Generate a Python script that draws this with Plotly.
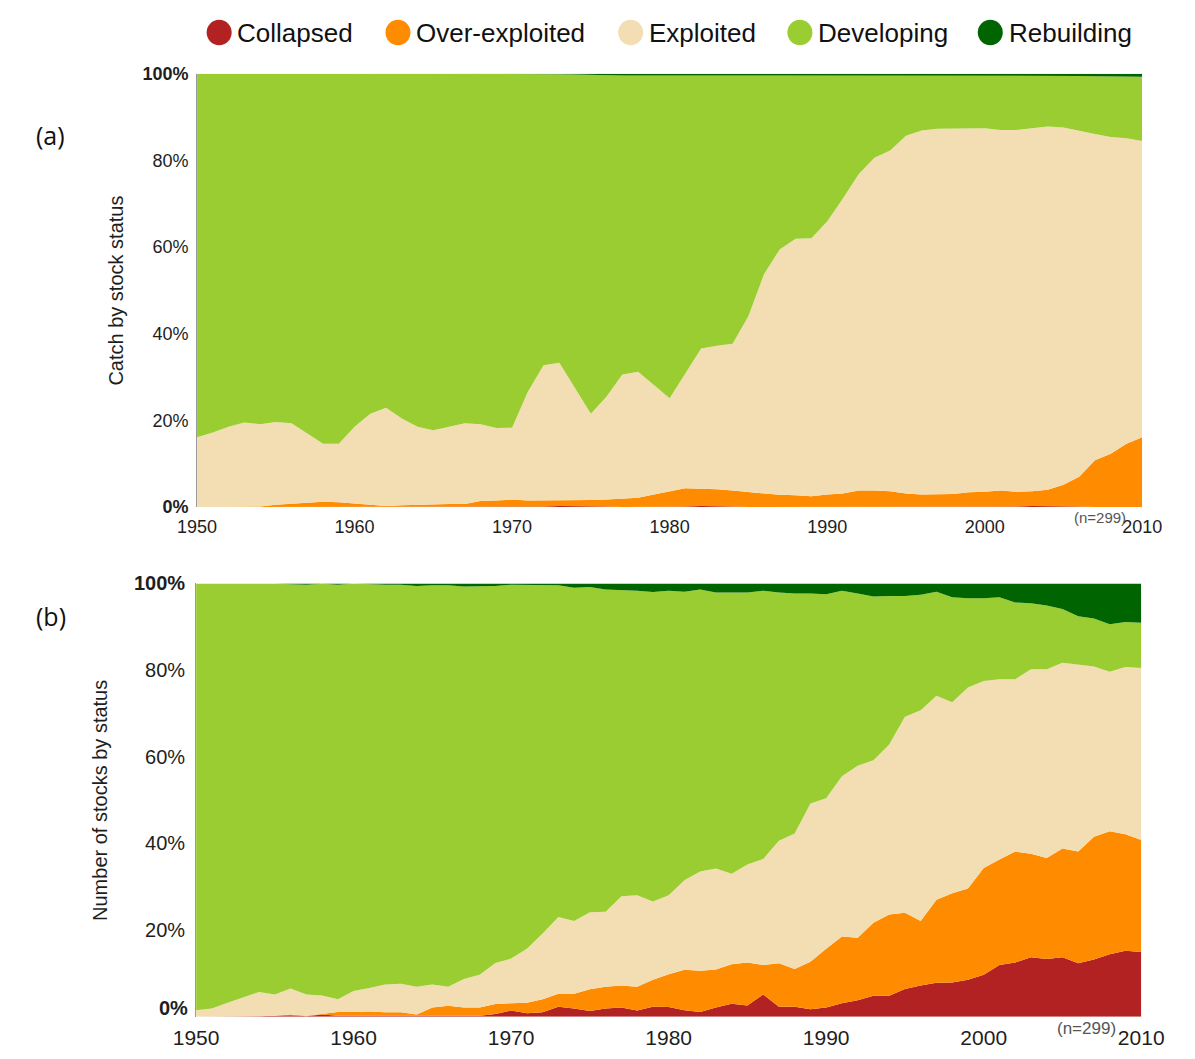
import plotly.graph_objects as go

W, H = 1195, 1059

years = list(range(1950, 2011))

categories = ["Collapsed", "Over-exploited", "Exploited", "Developing", "Rebuilding"]
colors = ["#B22222", "#FF8C00", "#F3DEB3", "#9ACD32", "#006400"]

# (a) share of catch by stock status, % (1950-2010)
catch_collapsed = [0, 0, 0, 0, 0, 0, 0, 0, 0, 0,
                   0, 0, 0, 0, 0, 0, 0, 0, 0, 0,
                   0, 0, 0.1, 0.2, 0.2, 0.2, 0.1, 0, 0, 0,
                   0, 0.1, 0.2, 0.2, 0.1, 0, 0, 0, 0, 0,
                   0, 0, 0, 0, 0, 0, 0, 0, 0, 0,
                   0, 0, 0.1, 0.2, 0.2, 0.2, 0.1, 0, 0, 0,
                   0]
catch_over = [0, 0, 0, 0, 0.1, 0.5, 0.8, 1.0, 1.2, 1.1,
              0.8, 0.5, 0.2, 0.4, 0.5, 0.7, 0.7, 0.7, 1.4, 1.5,
              1.7, 1.5, 1.4, 1.3, 1.3, 1.4, 1.6, 1.9, 2.1, 2.9,
              3.6, 4.2, 4.0, 3.9, 3.7, 3.5, 3.1, 2.8, 2.7, 2.5,
              2.9, 3.1, 3.8, 3.8, 3.6, 3.1, 2.9, 2.9, 3.0, 3.4,
              3.5, 3.8, 3.4, 3.4, 3.8, 4.9, 6.9, 10.8, 12.3, 14.6,
              16.1]
catch_exploited = [16.1, 17.2, 18.5, 19.5, 19.0, 19.1, 18.5, 16.0, 13.4, 13.5,
                   17.7, 21.0, 22.7, 20.0, 18.0, 17.0, 17.8, 18.6, 17.7, 16.7,
                   16.6, 25.1, 31.2, 31.8, 25.9, 19.9, 23.8, 28.7, 29.1, 25.3,
                   21.5, 26.5, 32.4, 33.1, 33.9, 40.5, 50.7, 56.7, 59.2, 59.5,
                   63.0, 68.1, 73.0, 76.8, 78.7, 82.6, 84.0, 84.4, 84.3, 84.0,
                   83.9, 83.2, 83.5, 83.8, 83.8, 82.5, 79.8, 75.3, 73.1, 70.5,
                   68.4]
catch_developing = [83.9, 82.8, 81.5, 80.5, 80.9, 80.4, 80.7, 83.0, 85.4, 85.4,
                    81.5, 78.5, 77.1, 79.6, 81.5, 82.3, 81.5, 80.7, 80.9, 81.8,
                    81.7, 73.4, 67.3, 66.6, 72.4, 78.2, 74.1, 69.0, 68.4, 71.4,
                    74.5, 68.8, 63.0, 62.4, 61.9, 55.6, 45.8, 40.1, 37.7, 37.6,
                    33.7, 28.4, 22.7, 18.9, 17.2, 13.8, 12.6, 12.2, 12.2, 12.1,
                    12.1, 12.5, 12.5, 12.1, 11.7, 11.9, 12.7, 13.3, 14.0, 14.2,
                    14.8]
catch_rebuilding = [0, 0, 0, 0, 0, 0, 0, 0, 0, 0,
                    0, 0, 0, 0, 0, 0, 0, 0, 0, 0,
                    0, 0, 0, 0.1, 0.2, 0.3, 0.4, 0.4, 0.4, 0.4,
                    0.4, 0.4, 0.4, 0.4, 0.4, 0.4, 0.4, 0.4, 0.4, 0.4,
                    0.4, 0.4, 0.5, 0.5, 0.5, 0.5, 0.5, 0.5, 0.5, 0.5,
                    0.5, 0.5, 0.5, 0.5, 0.5, 0.5, 0.5, 0.6, 0.6, 0.7,
                    0.7]

# (b) share of number of stocks by status, % (1950-2010)
stocks_collapsed = [0, 0, 0, 0, 0.1, 0.2, 0.3, 0.1, 0.5, 0.2,
                    0.2, 0.2, 0.2, 0.2, 0.1, 0.1, 0.1, 0.1, 0.2, 0.6,
                    1.4, 0.8, 1.0, 2.3, 1.9, 1.3, 1.9, 2.1, 1.4, 2.3,
                    2.2, 1.5, 1.1, 2.1, 3.0, 2.6, 5.1, 2.3, 2.3, 1.7,
                    2.1, 3.1, 3.8, 4.8, 4.8, 6.4, 7.2, 7.8, 7.9, 8.5,
                    9.7, 11.9, 12.5, 13.7, 13.3, 13.7, 12.3, 13.2, 14.4, 15.2,
                    14.9]
stocks_over = [0, 0, 0, 0, 0, 0, 0.2, 0.1, 0.1, 0.9,
               0.9, 1.0, 0.8, 0.8, 0.4, 2.0, 2.4, 2.0, 1.9, 2.3,
               1.7, 2.4, 3.0, 3.0, 3.4, 5.0, 5.0, 5.1, 5.5, 6.2,
               7.6, 9.3, 9.5, 8.8, 9.1, 9.9, 6.8, 10.0, 8.7, 11.0,
               13.6, 15.4, 14.4, 16.9, 18.8, 17.6, 14.9, 19.2, 20.6, 21.1,
               24.6, 24.4, 25.6, 23.9, 23.3, 25.1, 25.8, 28.3, 28.4, 26.9,
               25.9]
stocks_exploited = [1.5, 1.9, 3.2, 4.4, 5.6, 4.9, 6.0, 4.9, 4.3, 2.9,
                    4.8, 5.4, 6.4, 6.6, 6.4, 5.3, 4.4, 6.6, 7.6, 9.5,
                    10.3, 12.5, 15.2, 17.7, 16.8, 17.8, 17.3, 20.6, 21.1, 18.1,
                    18.2, 20.7, 22.9, 23.3, 20.9, 22.6, 24.5, 28.3, 31.3, 36.5,
                    34.7, 37.0, 39.7, 37.5, 39.2, 45.2, 48.6, 47.1, 44.1, 46.4,
                    43.2, 41.6, 39.8, 42.6, 43.6, 42.9, 43.2, 39.3, 36.8, 38.6,
                    39.7]
stocks_developing = [98.5, 98.1, 96.8, 95.6, 94.3, 94.9, 93.3, 94.6, 95.0, 95.7,
                     94.1, 93.2, 92.3, 92.1, 92.5, 92.2, 92.7, 90.6, 89.6, 87.0,
                     86.3, 84.0, 80.5, 76.6, 76.9, 75.1, 74.4, 70.7, 70.3, 71.4,
                     70.3, 66.6, 65.1, 63.7, 64.9, 62.8, 61.9, 57.3, 55.4, 48.5,
                     47.1, 42.8, 39.8, 37.8, 34.3, 27.9, 26.7, 24.0, 24.2, 20.6,
                     19.1, 18.9, 17.7, 15.2, 14.7, 12.4, 11.1, 11.1, 11.0, 10.4,
                     10.4]
stocks_rebuilding = [0, 0, 0, 0, 0, 0, 0.2, 0.3, 0.1, 0.3,
                     0, 0.2, 0.3, 0.3, 0.6, 0.4, 0.4, 0.7, 0.7, 0.6,
                     0.3, 0.3, 0.3, 0.4, 1.0, 0.8, 1.4, 1.5, 1.7, 2.0,
                     1.7, 1.9, 1.4, 2.1, 2.1, 2.1, 1.7, 2.1, 2.3, 2.3,
                     2.5, 1.7, 2.3, 3.0, 2.9, 2.9, 2.6, 1.9, 3.2, 3.4,
                     3.4, 3.2, 4.4, 4.6, 5.1, 5.9, 7.6, 8.1, 9.4, 8.9,
                     9.1]

year_ticks = [1950, 1960, 1970, 1980, 1990, 2000, 2010]
pct_ticks = [0, 20, 40, 60, 80, 100]
pct_labels = ["<b>0%</b>", "20%", "40%", "60%", "80%", "<b>100%</b>"]
n_note = "(n=299)"

panel_a = [catch_collapsed, catch_over, catch_exploited, catch_developing, catch_rebuilding]
panel_b = [stocks_collapsed, stocks_over, stocks_exploited, stocks_developing, stocks_rebuilding]


def px_x(p):
    return p / W


def px_y(p):
    return 1 - p / H


FONT = "Liberation Sans, Arial, sans-serif"
TXT = "#1e1e1e"

fig = go.Figure()

for series, xa, ya, grp in [(panel_a, "x", "y", "a"), (panel_b, "x2", "y2", "b")]:
    for name, vals, col in zip(categories, series, colors):
        fig.add_trace(go.Scatter(
            x=years, y=vals, name=name, xaxis=xa, yaxis=ya,
            stackgroup=grp, mode="lines", line=dict(width=0, color=col),
            fillcolor=col, showlegend=False, hoverinfo="x+y+name",
        ))

# plot areas in pixels: left, right, top, bottom
A = (181, 1164, 64, 506)
B = (180, 1163, 584, 1026)


def axis_pair(box, x_size, y_size, x_gap, y_gap, yvals, ytext):
    l, r, t, b = box
    xa = dict(domain=[px_x(l), px_x(r)], range=[1950, 2010], tickvals=year_ticks,
              showgrid=False, zeroline=False, showline=False, ticks="",
              ticklabelstandoff=x_gap,
              tickfont=dict(family=FONT, size=x_size, color=TXT), fixedrange=True)
    ya = dict(domain=[px_y(b), px_y(t)], range=[0, 100], tickvals=yvals,
              ticktext=ytext, showgrid=False, zeroline=False,
              showline=True, linecolor="#9a9a9a", linewidth=1, ticks="",
              ticklabelstandoff=y_gap,
              tickfont=dict(family=FONT, size=y_size, color=TXT), fixedrange=True)
    return xa, ya


xa1, ya1 = axis_pair(A, 18, 18, 7, 4, pct_ticks, pct_labels)
# the lowest label of panel (b) is set slightly higher, clear of the year labels
xa2, ya2 = axis_pair(B, 21, 20, 6, 6, pct_ticks[1:], pct_labels[1:])
xa1["anchor"] = "y"
ya1["anchor"] = "x"
xa2["anchor"] = "y2"
ya2["anchor"] = "x2"

annotations = []
shapes = []


def label(text, x, y, size, color="#111", angle=0, xanchor="center", family=FONT):
    return dict(text=text, xref="paper", yref="paper", x=px_x(x), y=px_y(y),
                xanchor=xanchor, yanchor="middle", textangle=angle, showarrow=False,
                font=dict(family=family, size=size, color=color))


annotations.append(dict(text=pct_labels[0], xref="paper", yref="y2", x=px_x(174), y=pct_ticks[0],
                        yshift=9, xanchor="right", yanchor="middle", showarrow=False,
                        font=dict(family=FONT, size=20, color=TXT)))

# legend drawn as large dots with labels across the top
legend_cx = [204, 390, 632, 808, 1006]
for name, col, cx in zip(categories, colors, legend_cx):
    shapes.append(dict(type="circle", xref="paper", yref="paper",
                       x0=px_x(cx - 13), x1=px_x(cx + 13),
                       y0=px_y(35), y1=px_y(9),
                       fillcolor=col, line=dict(width=0)))
    annotations.append(label(name, cx + 17, 22, 26, xanchor="left"))

# panel letters
annotations.append(label("(a)", 29, 127, 25, family="Open Sans, " + FONT))
annotations.append(label("(b)", 29, 617, 25, family="Open Sans, " + FONT))

# y-axis titles
annotations.append(label("Catch by stock status", 97, 285, 20, color=TXT, angle=-90))
annotations.append(label("Number of stocks by status", 80, 805, 20, color=TXT, angle=-90))

# sample size notes
annotations.append(label(n_note, 1120, 517, 15, color="#555"))
annotations.append(label(n_note, 1106, 1038, 17, color="#555"))

fig.update_layout(
    width=W, height=H,
    margin=dict(l=0, r=0, t=0, b=0),
    paper_bgcolor="white", plot_bgcolor="white",
    xaxis=xa1, yaxis=ya1, xaxis2=xa2, yaxis2=ya2,
    annotations=annotations, shapes=shapes,
    showlegend=False,
)

fig.write_html("out.html")
